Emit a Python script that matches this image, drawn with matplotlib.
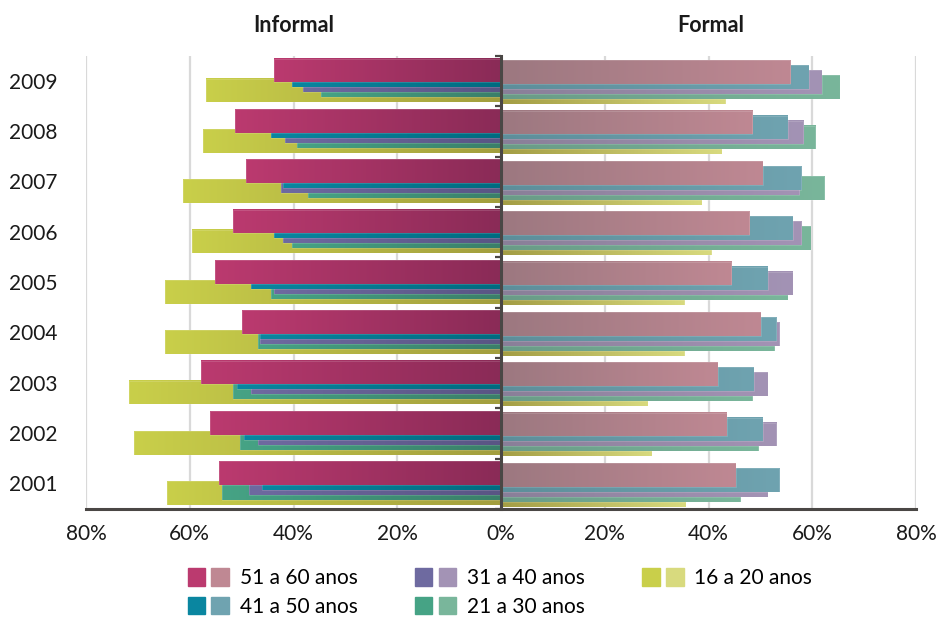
import numpy as np
import matplotlib
matplotlib.use("Agg")
import matplotlib.pyplot as plt
from matplotlib.colors import LinearSegmentedColormap
from matplotlib.patches import Patch
from matplotlib.legend_handler import HandlerTuple

plt.rcParams['font.family'] = ['Lato', 'DejaVu Sans']

years = ['2009', '2008', '2007', '2006', '2005', '2004', '2003', '2002', '2001']
groups = ['51 a 60 anos', '41 a 50 anos', '31 a 40 anos', '21 a 30 anos', '16 a 20 anos']

# informal share (%) by age group, 2009 -> 2001
inf_51_60 = [43.7, 51.3, 49.1, 51.6, 55.1, 49.9, 57.8, 56.1, 54.3]
inf_41_50 = [40.3, 44.3, 42.0, 43.8, 48.2, 46.4, 50.8, 49.5, 46.0]
inf_31_40 = [38.1, 41.6, 42.5, 42.0, 43.8, 46.4, 48.2, 46.8, 48.6]
inf_21_30 = [34.7, 39.4, 37.3, 40.3, 44.3, 46.8, 51.6, 50.3, 53.8]
inf_16_20 = [56.9, 57.4, 61.3, 59.5, 64.7, 64.7, 71.7, 70.8, 64.3]

# formal share (%) by age group, 2009 -> 2001
for_51_60 = [55.8, 48.4, 50.5, 47.9, 44.4, 50.1, 41.8, 43.5, 45.3]
for_41_50 = [59.3, 55.3, 57.9, 56.2, 51.4, 53.1, 48.7, 50.5, 53.6]
for_31_40 = [61.8, 58.3, 57.5, 57.9, 56.2, 53.6, 51.4, 53.1, 51.4]
for_21_30 = [65.3, 60.6, 62.3, 59.7, 55.3, 52.7, 48.4, 49.6, 46.1]
for_16_20 = [43.2, 42.6, 38.7, 40.5, 35.3, 35.3, 28.3, 29.1, 35.6]

informal = [inf_51_60, inf_41_50, inf_31_40, inf_21_30, inf_16_20]
formal = [for_51_60, for_41_50, for_31_40, for_21_30, for_16_20]

# (inner, outer) gradient colours
inf_colors = [('#8a2b57', '#bb3a6f'), ('#006b80', '#0a86a0'), ('#595584', '#6e6aa0'),
              ('#3a7f69', '#46a385'), ('#a29e3e', '#c9cf4a')]
for_colors = [('#9c7880', '#bf8893'), ('#5d8e9a', '#6fa3b0'), ('#897f98', '#a393b5'),
              ('#699b87', '#79b69b'), ('#a39d44', '#d8da7e')]

axis_col = '#4a4745'
bar_h = 0.47
step = 0.1


def gradient_bars(ax, vals, ypos, inner, outer, side, z):
    bars = ax.barh(ypos, [side * v for v in vals], height=bar_h, color='none',
                   edgecolor=(1, 1, 1, 0.2), linewidth=0.5, zorder=z + 0.01)
    cmap = LinearSegmentedColormap.from_list('g', [inner, outer])
    for p in bars.patches:
        x0, w = p.get_x(), p.get_width()
        y0, h = p.get_y(), p.get_height()
        grad = np.linspace(0, 1, 128).reshape(1, -1)
        if side < 0:
            grad = grad[:, ::-1]
        left, right = min(x0, x0 + w), max(x0, x0 + w)
        ax.imshow(grad, extent=(left, right, y0 + h, y0), aspect='auto', cmap=cmap,
                  interpolation='bilinear', zorder=z)


fig = plt.figure(figsize=(9.39, 6.19), dpi=100)
ax = fig.add_axes([86 / 939, 1 - 509 / 619, 830 / 939, 453 / 619])

idx = np.arange(len(years))
for k in range(len(groups)):
    z = 1.5 - 0.1 * k
    y_left = idx - 0.5 + 0.05 + k * step + bar_h / 2
    y_right = y_left + 0.035
    gradient_bars(ax, informal[k], y_left, inf_colors[k][0], inf_colors[k][1], -1, z)
    gradient_bars(ax, formal[k], y_right, for_colors[k][0], for_colors[k][1], 1, z)

xt = np.arange(-80, 81, 20)
for x in xt:
    ax.axvline(x, color='#d9d9d9', lw=1.6, zorder=0.2)

ax.set_xlim(-80, 80)
ax.set_ylim(len(years) - 0.5, -0.5)
ax.set_xticks(xt)
ax.set_xticklabels([f'{abs(v)}%' for v in xt], fontsize=15, color='#1a1a1a')
ax.tick_params(axis='x', length=0, pad=11)

ax.spines['left'].set_position(('data', 0))
ax.spines['left'].set_color(axis_col)
ax.spines['left'].set_linewidth(2.2)
ax.spines['left'].set_zorder(3)
ax.spines['bottom'].set_color(axis_col)
ax.spines['bottom'].set_linewidth(2.2)
ax.spines['top'].set_visible(False)
ax.spines['right'].set_visible(False)
ax.set_yticks(np.arange(len(years) + 1) - 0.5)
ax.set_yticklabels([])
ax.tick_params(axis='y', direction='out', length=4.5, width=1.6, color=axis_col)

for i, yr in enumerate(years):
    ax.text(-0.064, i + 0.03, yr, transform=ax.get_yaxis_transform(), ha='center',
            va='center', fontsize=15, color='#1a1a1a')

fig.text(294 / 939, 1 - 26 / 619, 'Informal', ha='center', va='center',
         fontsize=15.5, fontweight='bold', color='#1a1a1a')
fig.text(711 / 939, 1 - 26 / 619, 'Formal', ha='center', va='center',
         fontsize=15.5, fontweight='bold', color='#1a1a1a')

handles = [(Patch(color=inf_colors[k][1]), Patch(color=for_colors[k][1])) for k in range(len(groups))]
fig.legend(handles, groups, ncol=3, loc='lower left', bbox_to_anchor=(175 / 939, -0.017),
           frameon=False, fontsize=15, handler_map={tuple: HandlerTuple(ndivide=None, pad=0.3)},
           handlelength=2.0, handleheight=0.9, handletextpad=0.5, columnspacing=2.75,
           labelspacing=0.42, borderaxespad=0.2)

fig.savefig('out.png', dpi=100)
